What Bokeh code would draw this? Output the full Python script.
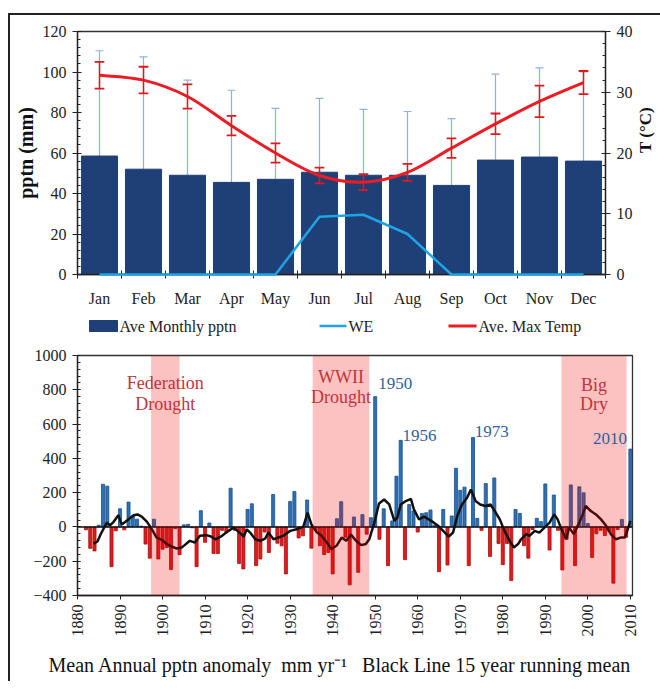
import math
from bokeh.plotting import figure
from bokeh.models import (Range1d, LinearAxis, FixedTicker, Span, BoxAnnotation, Label)
from bokeh.layouts import column
from bokeh.embed import file_html
from bokeh.resources import INLINE
from bokeh.core.properties import value

FONT = "Liberation Serif"

# ---------------- monthly climate (top panel) ----------------
months = ["Jan", "Feb", "Mar", "Apr", "May", "Jun", "Jul", "Aug", "Sep", "Oct", "Nov", "Dec"]
pptn = [58.5, 52.0, 49.0, 45.5, 47.0, 50.5, 49.0, 49.0, 44.0, 56.5, 58.0, 56.0]
pptn_upper = [110.5, 107.5, 96.0, 91.0, 82.0, 87.0, 81.5, 80.5, 77.0, 99.0, 102.0, 100.0]
we = [0, 0, 0, 0, 0, 28.5, 29.5, 20.0, 0, 0, 0, 0]
temp = [32.8, 32.0, 29.3, 24.5, 20.0, 16.3, 15.2, 16.8, 20.8, 24.8, 28.5, 31.6]
temp_err = [2.2, 2.2, 2.0, 1.6, 1.6, 1.3, 1.3, 1.4, 1.6, 1.7, 2.6, 1.9]
pptn_ticks = [0, 20, 40, 60, 80, 100, 120]
temp_ticks = [0, 10, 20, 30, 40]
legend_labels = ["Ave Monthly pptn", "WE", "Ave. Max Temp"]

# ---------------- annual anomaly (bottom panel) ----------------
years = list(range(1882, 2011))
anomaly = [
    -17, -125, -140, 10, 249, 238, -232, -23,                      # 1882-1889
    106, -17, 145, 64, 45, 5, -100, -182, 45, -187,                # 1890s
    -130, -120, -249, -10, -162, 12, 15, -5, -232, 95,             # 1900s
    -90, 23, -155, -155, -20, -33, 226, -20, -213, -245,           # 1910s
    102, 135, -226, -187, -30, -149, 189, -95, -110, -274,         # 1920s
    149, 207, -64, -52, 157, -124, -20, -110, -162, -149,          # 1930s
    -274, 48, 147, -60, -338, 58, -265, 72, -42, 54,               # 1940s
    760, -72, 106, -226, 35, 296, 505, -191, 131, 93,              # 1950s
    -30, 79, 83, 99, 10, -261, 102, -222, 64, 342,                 # 1960s
    214, 232, -226, 522, 50, -20, 253, -172, 286, -97,             # 1970s
    -220, -97, -313, 102, 79, -110, -182, -15, 50, 31,             # 1980s
    251, -135, 186, -20, -251, -72, 245, -226, 234, 199,           # 1990s
    20, -178, -40, -20, -50, -25, -328, -15, 44, -60,              # 2000s
    454,                                                           # 2010
]
mean_years = [1883.8, 1884.7, 1885.5, 1886.9, 1887.7, 1888.5, 1889.6, 1890.4, 1891.2, 1892.3,
              1893.2, 1894.1, 1895.1, 1896.3, 1897.4, 1898.6, 1899.8, 1901.0, 1902.1, 1903.3,
              1904.5, 1905.2, 1906.4, 1907.6, 1908.8, 1910.3, 1911.4, 1912.4, 1914.0, 1915.5,
              1916.7, 1917.9, 1919.1, 1919.8, 1920.6, 1921.8, 1923.0, 1924.1, 1924.9, 1926.1,
              1927.2, 1928.4, 1930.0, 1931.5, 1933.1, 1934.1, 1935.0, 1936.2, 1937.4, 1938.6,
              1939.7, 1940.9, 1942.1, 1943.2, 1944.3, 1945.5, 1946.7, 1947.8, 1948.6, 1949.8,
              1950.9, 1952.1, 1953.3, 1954.5, 1955.2, 1956.0, 1957.2, 1958.4, 1959.1, 1960.3,
              1961.5, 1962.6, 1963.8, 1965.0, 1966.2, 1967.3, 1968.3, 1969.3, 1970.4, 1971.6,
              1972.5, 1973.6, 1974.7, 1975.9, 1977.1, 1978.1, 1979.3, 1980.4, 1981.6, 1982.6,
              1983.6, 1984.3, 1985.5, 1986.3, 1987.5, 1988.6, 1989.8, 1991.0, 1992.1, 1992.9,
              1993.8, 1994.9, 1995.6, 1996.7, 1997.6, 1998.8, 1999.5, 2000.7, 2001.9, 2003.1,
              2004.2, 2005.4, 2006.6, 2007.7, 2008.7, 2009.5, 2010.0]
mean_vals = [-97, -85, -40, 25, 10, 30, 68, 15, 29, 50,
             68, 73, 60, 31, -10, -62, -75, -100, -114, -126,
             -120, -106, -81, -91, -52, -48, -56, -72, -52, -23,
             -4, -29, -56, -14, -33, -72, -81, -68, -33, -72,
             -62, -52, -23, -14, 2, 83, 15, -29, -52, -91,
             -129, -110, -62, -81, -45, -81, -106, -100, -72, 25,
             137, 160, 131, 35, 54, 131, 151, 164, 102, 44,
             60, 44, 25, 2, -29, -56, -33, 64, 131, 170,
             218, 151, 131, 122, 131, 93, 44, -23, -81, -120,
             -100, -72, -42, -52, -23, -33, -4, 25, 73, 44,
             -14, -72, -4, -42, 6, 73, 122, 93, 73, 44,
             10, -42, -72, -62, -62, -4, 35]
year_ticks = list(range(1880, 2011, 10))
anom_ticks = list(range(-400, 1001, 200))
drought_names = [["Federation", "Drought"], ["WWII", "Drought"], ["Big", "Dry"]]
drought_start = [1897.3, 1935.3, 1993.8]
drought_end = [1904.0, 1948.6, 2009.1]
highlight_years = ["1950", "1956", "1973", "2010"]

BAR_C = "#1f3f77"
WE_C = "#1ea4e6"
TEMP_C = "#ec1c24"


def style_axis(ax, size="16px"):
    ax.axis_line_color = "#222222"
    ax.axis_line_width = 1.3
    ax.major_tick_line_color = "#222222"
    ax.minor_tick_line_color = "#222222"
    ax.major_label_text_font = FONT
    ax.major_label_text_font_size = size
    ax.major_label_text_color = "#222222"
    ax.axis_label_text_font = FONT
    ax.axis_label_text_color = "#111111"


# =================== TOP PANEL ===================
xs = list(range(len(months)))
p1 = figure(frame_width=528, frame_height=243, min_border_left=66, min_border_right=56,
            min_border_top=16, min_border_bottom=38,
            x_range=Range1d(-0.5, 11.5), y_range=Range1d(0, 120),
            output_backend="svg", toolbar_location=None, tools="")
p1.extra_y_ranges = {"temp": Range1d(0, 40)}
p1.xgrid.visible = False
p1.ygrid.visible = False
p1.outline_line_color = "#333333"
p1.outline_line_width = 1.3

cap = 0.09
p1.segment(x0=xs, y0=pptn, x1=xs, y1=pptn_upper, line_color="#8db4d6", line_width=1.2)
p1.segment(x0=[x - cap for x in xs], y0=pptn_upper, x1=[x + cap for x in xs], y1=pptn_upper,
           line_color="#8db4d6", line_width=1.2)
p1.vbar(x=xs, top=pptn, width=0.82, fill_color=BAR_C, line_color=BAR_C)
we_line = p1.line(xs, we, line_color=WE_C, line_width=2.5)
we_line.level = "overlay"

# smooth temperature curve (bezier through the monthly points)
n = len(temp)
bx0, by0, bx1, by1, cx0, cy0, cx1, cy1 = [], [], [], [], [], [], [], []
for i in range(n - 1):
    i0 = max(i - 1, 0)
    i3 = min(i + 2, n - 1)
    bx0.append(xs[i]); by0.append(temp[i])
    bx1.append(xs[i + 1]); by1.append(temp[i + 1])
    cx0.append(xs[i] + (xs[i + 1] - xs[i0]) / 6.0)
    cy0.append(temp[i] + (temp[i + 1] - temp[i0]) / 6.0)
    cx1.append(xs[i + 1] - (xs[i3] - xs[i]) / 6.0)
    cy1.append(temp[i + 1] - (temp[i3] - temp[i]) / 6.0)
p1.bezier(x0=bx0, y0=by0, x1=bx1, y1=by1, cx0=cx0, cy0=cy0, cx1=cx1, cy1=cy1,
          line_color=TEMP_C, line_width=3, y_range_name="temp")
t_lo = [t - e for t, e in zip(temp, temp_err)]
t_hi = [t + e for t, e in zip(temp, temp_err)]
rcap = 0.11
p1.segment(x0=xs, y0=t_lo, x1=xs, y1=t_hi, line_color="#e0181f", line_width=1.5, y_range_name="temp")
for yy in (t_lo, t_hi):
    p1.segment(x0=[x - rcap for x in xs], y0=yy, x1=[x + rcap for x in xs], y1=yy,
               line_color="#e0181f", line_width=1.8, y_range_name="temp")

ax = p1.xaxis[0]
ax.ticker = FixedTicker(ticks=xs, minor_ticks=[x - 0.5 for x in xs] + [xs[-1] + 0.5])
ax.major_label_overrides = {x: m for x, m in zip(xs, months)}
style_axis(ax)
ax.major_tick_in = 0
ax.major_tick_out = 0
ax.minor_tick_in = 4
ax.minor_tick_out = 4
ax.major_label_standoff = 11

ay = p1.yaxis[0]
ay.ticker = FixedTicker(ticks=pptn_ticks, minor_ticks=list(range(0, 121, 4)))
style_axis(ay)
ay.major_tick_in = 4
ay.major_tick_out = 5
ay.minor_tick_in = 3
ay.minor_tick_out = 0
ay.major_label_standoff = 6
ay.axis_label = "pptn (mm)"
ay.axis_label_text_font_style = "bold"
ay.axis_label_text_font_size = "20px"
ay.axis_label_standoff = 3

ar = LinearAxis(y_range_name="temp",
                ticker=FixedTicker(ticks=temp_ticks, minor_ticks=list(range(0, 41, 2))))
style_axis(ar)
ar.major_tick_in = 4
ar.major_tick_out = 5
ar.minor_tick_in = 3
ar.minor_tick_out = 0
ar.major_label_standoff = 6
ar.axis_label = "T (°C)"
ar.axis_label_text_font_style = "bold"
ar.axis_label_text_font_size = "17px"
ar.axis_label_standoff = 10
ar.axis_label_text_align = "center"
ar.axis_label_text_baseline = "middle"
try:
    ar.axis_label_orientation = math.pi / 2
except Exception:
    pass
p1.add_layout(ar, "right")

# =================== LEGEND STRIP ===================
lg = figure(frame_width=528, frame_height=27, min_border_left=66, min_border_right=56,
            min_border_top=0, min_border_bottom=0,
            x_range=Range1d(66, 594), y_range=Range1d(0, 27),
            x_axis_type=None, y_axis_type=None,
            output_backend="svg", toolbar_location=None, tools="")
lg.grid.visible = False
lg.outline_line_color = None
lg.rect(x=[92], y=[13.5], width=28, height=11, fill_color=BAR_C, line_color=BAR_C)
lg.segment(x0=[308, 437], y0=[13.5, 13.5], x1=[335, 465], y1=[13.5, 13.5],
           line_color=[WE_C, TEMP_C], line_width=[2.5, 3])
lg.text(x=[108, 337, 467], y=[13.5, 13.5, 13.5], text=legend_labels,
        text_font=value(FONT), text_font_size="16px", text_baseline="middle",
        text_align="left", text_color="#222222")

# =================== BOTTOM PANEL ===================
p2 = figure(frame_width=555, frame_height=240, min_border_left=67, min_border_right=28,
            min_border_top=16, min_border_bottom=86,
            x_range=Range1d(1880, 2010.5), y_range=Range1d(-400, 1000),
            output_backend="svg", toolbar_location=None, tools="")
p2.xgrid.visible = False
p2.ygrid.visible = False
p2.outline_line_color = "#333333"
p2.outline_line_width = 1.3

pos_y = [y for y, v in zip(years, anomaly) if v >= 0]
pos_v = [v for v in anomaly if v >= 0]
neg_y = [y for y, v in zip(years, anomaly) if v < 0]
neg_v = [v for v in anomaly if v < 0]
p2.vbar(x=pos_y, top=pos_v, bottom=0, width=0.72, fill_color="#2b70b8",
        line_color="#1d4f87", line_width=0.8)
p2.vbar(x=neg_y, top=0, bottom=neg_v, width=0.72, fill_color="#e41a1a",
        line_color="#a50f0f", line_width=0.8)
p2.line(mean_years, mean_vals, line_color="#111111", line_width=2.5)
p2.add_layout(Span(location=0, dimension="width", line_color="#111111", line_width=1.5))

for s, e in zip(drought_start, drought_end):
    p2.add_layout(BoxAnnotation(left=s, right=e, fill_color="#f20000", fill_alpha=0.24,
                                line_alpha=0))

name_y = [[839, 717], [876, 760], [830, 717]]
for (s, e), names, ys in zip(zip(drought_start, drought_end), drought_names, name_y):
    for nm, yv in zip(names, ys):
        p2.add_layout(Label(x=(s + e) / 2, y=yv, text=nm, text_font=FONT, text_font_size="18px",
                            text_align="center", text_baseline="middle", text_color="#c0353a"))

hl_pos = [(1950.7, 837, "left"), (1956.4, 533, "left"), (1973.4, 556, "left"), (2009.2, 514, "right")]
for txt, (xv, yv, al) in zip(highlight_years, hl_pos):
    p2.add_layout(Label(x=xv, y=yv, text=txt, text_font=FONT, text_font_size="17px",
                        text_align=al, text_baseline="middle", text_color="#2f5f9f"))

bx = p2.xaxis[0]
bx.ticker = FixedTicker(ticks=year_ticks)
style_axis(bx)
bx.major_label_orientation = math.pi / 2
bx.major_tick_in = 0
bx.major_tick_out = 4
bx.major_label_standoff = 5
bx.axis_label = ("Mean Annual pptn anomaly\u00a0\u00a0mm yr\u207b\u00b9\u00a0\u00a0\u00a0"
                 "Black Line 15 year running mean\u00a0\u00a0\u00a0\u00a0\u00a0\u00a0")
bx.axis_label_text_font_size = "20px"
bx.axis_label_text_font_style = "normal"
bx.axis_label_standoff = 14

by = p2.yaxis[0]
by.ticker = FixedTicker(ticks=anom_ticks, minor_ticks=list(range(-400, 1001, 40)))
style_axis(by)
by.major_tick_in = 3
by.major_tick_out = 5
by.minor_tick_in = 3
by.minor_tick_out = 0
by.major_label_standoff = 6

layout = column(p1, lg, p2, styles={"border-top": "2px solid #222222",
                                    "border-left": "2px solid #222222",
                                    "position": "relative", "left": "8px", "top": "13px"})

open("out.html", "w").write(file_html(layout, INLINE))
